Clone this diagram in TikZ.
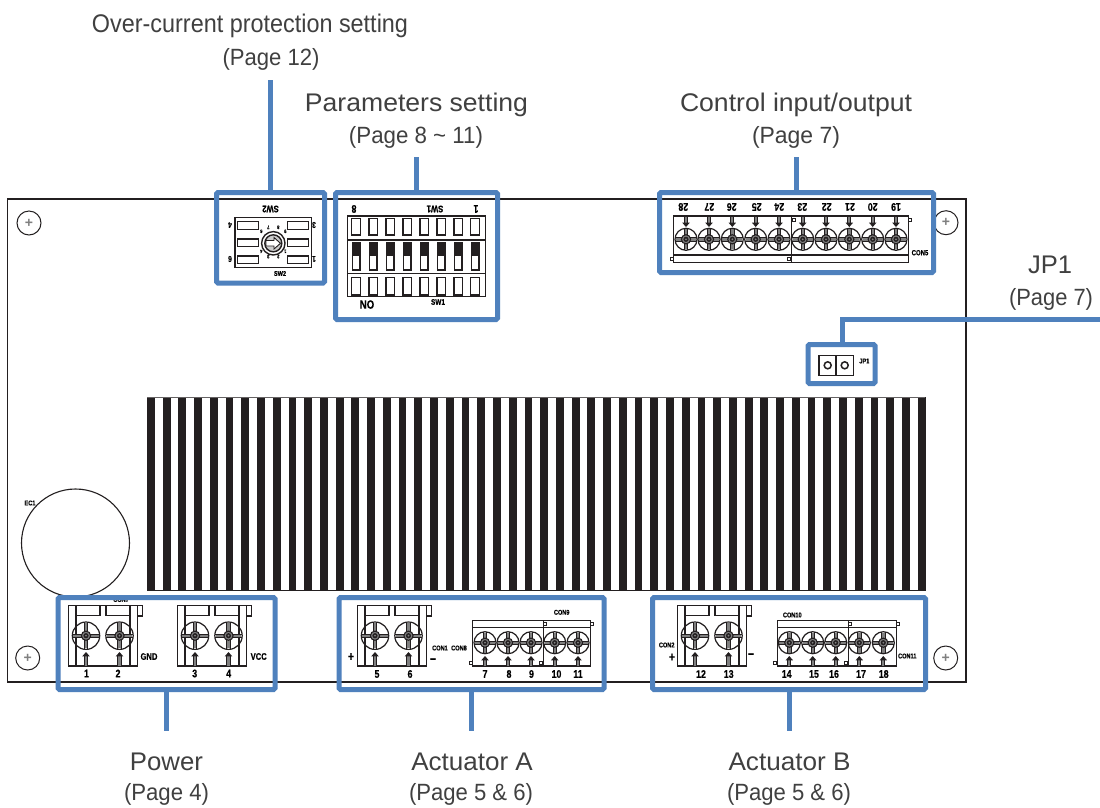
\documentclass[tikz,border=0pt]{standalone}
\usepackage{fontspec}
\setmainfont{Liberation Sans}
\newfontfamily\narrowf[FakeStretch=0.8,BoldFont={Liberation Sans Bold},BoldFeatures={FakeBold=0.5}]{Liberation Sans}
\definecolor{leadblue}{HTML}{4F81BD}
\definecolor{ink}{HTML}{231F20}
\definecolor{mid}{HTML}{808080}
\definecolor{captxt}{HTML}{404040}
\newcommand{\pcb}[1]{\fontsize{#1}{#1}\selectfont\narrowf\bfseries}
\newcommand{\fitw}[2]{\resizebox{#1pt}{\height}{#2}}
\newcommand{\heatfins}{\foreach \i in {0,...,49}{\fill[ink] ({147+\i*15.73},397) rectangle ++(7.8,193.5);}}
\newcommand{\screw}[3]{% x,y,r
  \fill[mid] (#1-#3+1,#2-1.8) rectangle (#1+#3-1,#2+1.8);
  \fill[mid] (#1-1.8,#2-#3+1) rectangle (#1+1.8,#2+#3-1);
  \draw[ink,line width=1.2pt] (#1,#2) circle (#3);
  \draw[ink,line width=.8pt] (#1-#3,#2-1.8) -- (#1+#3,#2-1.8) (#1-#3,#2+1.8) -- (#1+#3,#2+1.8);
  \draw[ink,line width=.8pt] (#1-1.8,#2-#3) -- (#1-1.8,#2+#3) (#1+1.8,#2-#3) -- (#1+1.8,#2+#3);
  \fill[mid] (#1,#2) circle (4.6);
  \draw[ink,line width=1.1pt] (#1,#2) circle (4.6);
  \fill[ink] (#1,#2) circle (2.6);
  \fill[mid] (#1,#2) circle (1);}
\newcommand{\uparr}[3]{% x, tip y, tail y
  \fill[mid] (#1-1.6,#2+3) rectangle (#1+1.6,#3);
  \draw[ink,line width=.9pt] (#1-1.6,#2+3.5) -- (#1-1.6,#3) (#1+1.6,#2+3.5) -- (#1+1.6,#3);
  \fill[ink] (#1-3.8,#2+4.4) -- (#1,#2) -- (#1+3.8,#2+4.4) -- cycle;}
\newcommand{\dnarr}[3]{% x, tail y, tip y
  \fill[mid] (#1-1.6,#2) rectangle (#1+1.6,#3-3);
  \draw[ink,line width=.9pt] (#1-1.6,#2) -- (#1-1.6,#3-3.5) (#1+1.6,#2) -- (#1+1.6,#3-3.5);
  \fill[ink] (#1-3.8,#3-4.4) -- (#1,#3) -- (#1+3.8,#3-4.4) -- cycle;}
\newcommand{\sq}[2]{\draw[ink,line width=.9pt,fill=white] (#1-1.5,#2-1.5) rectangle (#1+1.5,#2+1.5);}
\newcommand{\twoterm}[1]{% left x of body
  \draw[pcbl] (#1,605.3) rectangle (#1+69,666);
  \draw[pcbl] (#1+7.3,605.3) -- (#1+7.3,666) (#1+61.3,605.3) -- (#1+61.3,666);
  \draw[pcbl] (#1+7.3,615.3) -- (#1+31.3,615.3) -- (#1+31.3,605.3);
  \draw[pcbl] (#1+37.3,605.3) -- (#1+37.3,615.3) -- (#1+61.3,615.3);
  \draw[pcbl] (#1+69,605.3) -- (#1+74,605.3) -- (#1+74,616) -- (#1+69,616);
  \screw{#1+17.3}{635.7}{13.7}\screw{#1+50.8}{635.7}{13.7}
  \uparr{#1+17.3}{652}{665.5}\uparr{#1+50.8}{652}{665.5}}
\newcommand{\fiveterm}[7]{% left, right, divider, four screw xs
  \draw[pcbl] (#1,620.7) rectangle (#2,666);
  \draw[pcbl] (#3,620.7) -- (#3,666);
  \draw[pcbl] (#1,627.3) -- (#2,627.3);
  \sq{#3+1.7}{624}\sq{#2+1.7}{624}\sq{#1-2}{663}\sq{#3-2.6}{663}
  \foreach \sx in {#4,#5,#6,#7}{\screw{\sx}{642.7}{11}\uparr{\sx}{656}{665.5}}}
\tikzset{
  pcbl/.style={ink,line width=1.4pt},
  frameb/.style={draw=leadblue,line width=5pt,rounded corners=1.5pt,fill=none,inner sep=0pt},
  leadl/.style={draw=leadblue,line width=5pt},
  titlet/.style={inner sep=0pt,anchor=base,font=\fontsize{25.5}{28}\selectfont,text=captxt},
  paget/.style={inner sep=0pt,anchor=base,font=\fontsize{23.5}{26}\selectfont,text=captxt},
  holec/.style={draw=ink,line width=1pt,minimum size=24pt,shape=circle,inner sep=0pt},
  tiny/.style={inner sep=0pt,font=\pcb{7}},
  rtiny/.style={inner sep=0pt,font=\pcb{7},rotate=180},
  num/.style={inner sep=0pt,font=\pcb{11}},
  rnum/.style={inner sep=0pt,font=\pcb{11},rotate=180},
}
\begin{document}
\begin{tikzpicture}[x=1pt,y=-1pt]
\useasboundingbox (0,0) rectangle (1100,807);
\fill[white] (0,0) rectangle (1100,807);
% board
\draw[ink,line width=1.2pt] (7.5,199) rectangle (966,682);
% heat sink
\heatfins
\draw[ink!70,line width=.8pt] (147,397) -- (925,397);
\draw[ink,line width=1pt] (149,590.5) -- (925,590.5);
% capacitor
\node[shape=circle,draw=ink,line width=1.1pt,minimum size=108pt,inner sep=0pt] (ec1) at (75.5,543) {};
\node[tiny] (ec1t) at (30,503) {EC1};
% holes
\node[holec,text=mid] (h1) at (29,223) {\fontsize{14}{14}\selectfont\bfseries +};
\node[holec,text=mid] (h2) at (946,222.7) {\fontsize{14}{14}\selectfont\bfseries +};
\node[holec,text=mid] (h3) at (27.7,658) {\fontsize{14}{14}\selectfont\bfseries +};
\node[holec,text=mid] (h4) at (945.7,658) {\fontsize{14}{14}\selectfont\bfseries +};
% SW2
\draw[pcbl] (235,217.7) rectangle (311.7,267.7);
\foreach \y in {221.7,239,256}{
  \draw[pcbl] (237.3,\y) rectangle (258.3,\y+7.5);
  \draw[pcbl] (287.3,\y) rectangle (308.3,\y+7.5);}
\draw[pcbl,fill=white] (273.3,243.3) circle (11.7);
\draw[pcbl,fill=mid!40] (273.3,243.3) circle (8.5);
\draw[ink,line width=.9pt,fill=white] (266,240.5) -- (274,240.5) -- (274,237.5) -- (280.5,243.3) -- (274,249) -- (274,246) -- (266,246) -- cycle;
\node[rtiny,font=\pcb{9.5}] (sw2t) at (270.5,209) {SW2};
\node[tiny] (sw2b) at (280,273.5) {SW2};
\node[rtiny,font=\pcb{8.5}] (s4) at (230,225) {4};
\node[rtiny,font=\pcb{8.5}] (s6) at (230,259) {6};
\node[rtiny,font=\pcb{8.5}] (s3) at (314,225) {3};
\node[rtiny,font=\pcb{8.5}] (s1) at (314,259) {1};
\foreach \dx/\dy/\t in {-12/-11/6,-5/-15/7,5/-15/8,12/-11/9,12/9/1,5/14.3/2,-5/14.3/3,-12/9/4}{
  \node[rtiny,font=\pcb{5}] at (273.3+\dx,242.3+\dy) {\t};}
% SW1
\draw[pcbl] (347.7,216) rectangle (485.3,296.7);
\draw[pcbl] (347.7,240) -- (485.3,240) (347.7,273.3) -- (485.3,273.3);
\foreach \x in {356,373.3,390.3,407.3,424.3,441.3,458.3,475}{
  \draw[pcbl] (\x-4.4,218.5) rectangle (\x+4.4,235);
  \draw[pcbl] (\x-4.4,277.5) rectangle (\x+4.4,295);
  \draw[pcbl] (\x-3.8,242.3) rectangle (\x+3.8,270);
  \fill[ink] (\x-3.8,242.3) rectangle (\x+3.8,256);}
\node[rnum] (l8) at (354,209) {8};
\node[rtiny,font=\pcb{9.5}] (sw1t) at (435,209) {SW1};
\node[rnum] (l1) at (476,209) {1};
\node[inner sep=0pt,font=\pcb{12}] (no) at (367,304.5) {NO};
\node[tiny,font=\pcb{8}] (sw1b) at (438,302) {SW1};
% CON5
\draw[pcbl] (673.3,216) rectangle (908.3,262.7);
\draw[pcbl] (791.7,216) -- (791.7,262.7) (673.3,255) -- (908.3,255);
\foreach \x in {686,709,732.3,755.7,779,802.7,826,849.3,872.7,896}{\screw{\x}{239.3}{11}\dnarr{\x}{216.5}{227}}
\sq{793.5}{219.5}\sq{910}{220}\sq{671.7}{259}\sq{789.3}{259}
\foreach \x/\t in {683.3/28,709.3/27,731.7/26,756.7/25,779.3/24,802.3/23,826.7/22,850/21,872.7/20,896/19}{
  \node[rnum] at (\x,207) {\t};}
\node[tiny,font=\pcb{7.5}] (con5) at (920,252.7) {CON5};
% JP1
\draw[ink,line width=1.1pt] (819,355.7) rectangle (853.3,375.3);
\draw[ink,line width=1.1pt] (836,355.7) -- (836,375.3);
\draw[ink,line width=1.5pt] (827.7,365.3) circle (3.5);
\draw[ink,line width=1.5pt] (844.7,365.3) circle (3.5);
\node[tiny] (jp1t) at (864.3,361) {JP1};
% Power
\twoterm{68.7}\twoterm{177.7}
\foreach \x/\t in {86.5/1,118/2,194.7/3,228.7/4}{\node[num] at (\x,673.5) {\t};}
\node[inner sep=0pt,font=\pcb{9.5}] (gnd) at (149,656.5) {GND};
\node[inner sep=0pt,font=\pcb{9.5}] (vcc) at (258.7,656.5) {VCC};
\node[tiny] (con7) at (121,599.5) {CON7};
\node[tiny] (con12) at (212,597.5) {CON12};
% Actuator A
\twoterm{357.7}
\fiveterm{472.7}{590.7}{543.3}{485}{508}{531}{554.7}
\screw{578}{642.7}{11}\uparr{578}{656}{665.5}
\foreach \x/\t in {377/5,410/6,485/7,509/8,531.5/9,556.5/10,578/11}{\node[num] at (\x,674) {\t};}
\node[num,font=\pcb{13}] (pa) at (351,657) {+};
\node[num,font=\pcb{13}] (ma) at (433,661) {−};
\node[tiny] (con1) at (440,648) {CON1};
\node[tiny] (con8) at (459,648) {CON8};
\node[tiny] (con9) at (561.7,612.3) {CON9};
% Actuator B
\twoterm{677.7}
\fiveterm{777.3}{896.7}{848.3}{789.3}{812.7}{835.7}{859.3}
\screw{883.3}{642.7}{11}\uparr{883.3}{656}{665.5}
\foreach \x/\t in {701/12,728.7/13,786.7/14,814/15,834/16,861/17,883.7/18}{\node[num] at (\x,674) {\t};}
\node[tiny] (con2) at (666.7,645) {CON2};
\node[num,font=\pcb{13}] (pb) at (672,657.5) {+};
\node[num,font=\pcb{13}] (mb) at (751,656) {−};
\node[tiny] (con10) at (792.3,615) {CON10};
\node[tiny] (con11) at (907.3,656) {CON11};
% frames
\node[frameb,minimum width=108pt,minimum height=90.5pt] (fsw2) at (270.5,237.75) {};
\node[frameb,minimum width=162pt,minimum height=127pt] (fsw1) at (416.5,256) {};
\node[frameb,minimum width=274pt,minimum height=80pt] (fctl) at (796.5,232.5) {};
\node[frameb,minimum width=67pt,minimum height=39pt] (fjp) at (841.5,364) {};
\node[frameb,minimum width=217pt,minimum height=92pt] (fpow) at (166.5,643.5) {};
\node[frameb,minimum width=265pt,minimum height=92pt] (fa) at (471.5,643.5) {};
\node[frameb,minimum width=273pt,minimum height=92pt] (fb) at (789,643.5) {};
% labels
\node[titlet] (t1) at (250,32) {\fitw{316}{Over-current protection setting}};
\node[paget] (p1) at (271,65) {\fitw{97}{(Page 12)}};
\node[titlet] (t2) at (416.5,111) {\fitw{223}{Parameters setting}};
\node[paget] (p2) at (416,143.5) {\fitw{134}{(Page 8 \textasciitilde{} 11)}};
\node[titlet] (t3) at (796,111) {\fitw{232}{Control input/output}};
\node[paget] (p3) at (796,143.5) {\fitw{88}{(Page 7)}};
\node[titlet] (t4) at (1050,273) {\fitw{44}{JP1}};
\node[paget] (p4) at (1051,305) {\fitw{84}{(Page 7)}};
\node[titlet] (t5) at (166.5,770) {\fitw{73}{Power}};
\node[paget] (p5) at (166.5,800) {\fitw{85}{(Page 4)}};
\node[titlet] (t6) at (472,770) {\fitw{121.5}{Actuator A}};
\node[paget] (p6) at (471,800) {\fitw{124}{(Page 5 \& 6)}};
\node[titlet] (t7) at (789.5,770) {\fitw{122}{Actuator B}};
\node[paget] (p7) at (789,800) {\fitw{124}{(Page 5 \& 6)}};
% leaders
\coordinate (c1) at (270.5,80);
\coordinate (c2) at (416.5,157);
\coordinate (c3) at (796.5,157);
\coordinate (c4) at (1100,319.7);
\coordinate (c5) at (166.5,731);
\coordinate (c6) at (471.5,731);
\coordinate (c7) at (789,731);
\draw[leadl] (c1) -- (fsw2.north);
\draw[leadl] (c2) -- (fsw1.north);
\draw[leadl] (c3) -- (fctl.north);
\draw[leadl] (c4) -- (842.7,319.7) -- (842.7,344.5);
\draw[leadl] (fpow.south) -- (c5);
\draw[leadl] (fa.south) -- (c6);
\draw[leadl] (fb.south) -- (c7);
\end{tikzpicture}
\end{document}
